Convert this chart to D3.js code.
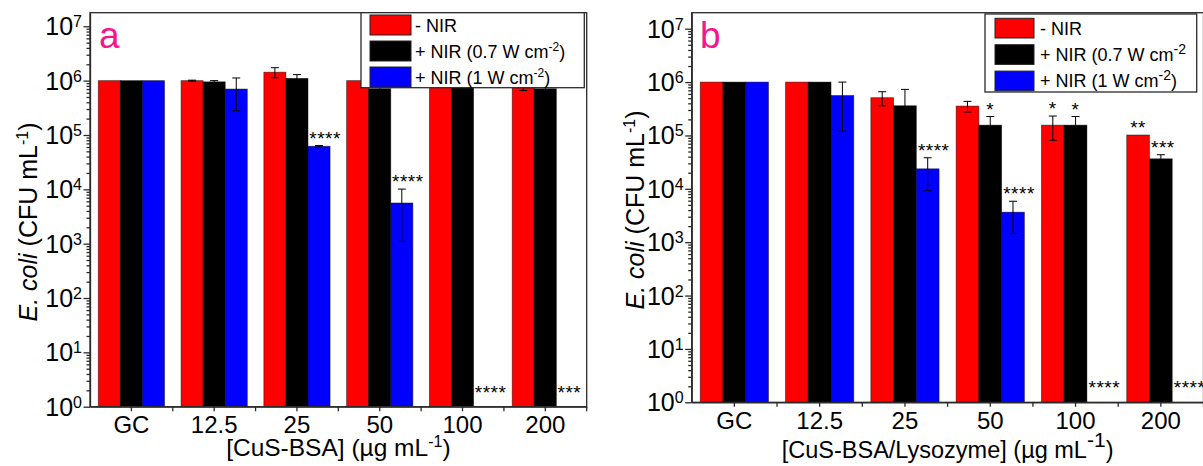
<!DOCTYPE html>
<html><head><meta charset="utf-8">
<script src="https://cdn.jsdelivr.net/npm/d3@7/dist/d3.min.js"></script>
<style>body{margin:0;background:#fff}svg{display:block;font-family:"Liberation Sans",Arial,sans-serif}</style>
</head><body>
<script>
// ---------- data ----------
const categories = ["GC", "12.5", "25", "50", "100", "200"];
const seriesNames = ["- NIR", "+ NIR (0.7 W cm-2)", "+ NIR (1 W cm-2)"];
const seriesColors = ["#ff0000", "#000000", "#0000ff"];
const yTickExps = [0, 1, 2, 3, 4, 5, 6, 7];

// panel a
const redA = [1e6, 1e6, 1.43e6, 1e6, 1e6, 7.4e5];
const redErrA = [0, 2e4, 3e5, 0, 0, 8e4];
const blackA = [1e6, 9.5e5, 1.1e6, 7.1e5, 1e6, 7.1e5];
const blackErrA = [0, 5e4, 1.9e5, 1.5e5, 0, 4e4];
const blueA = [1e6, 7e5, 6.2e4, 5.6e3, null, null];
const blueErrA = [0, 4.2e5, 2e3, 4.5e3, 0, 0];
const starsA = [["25", 2, "****"], ["50", 2, "****"], ["100", 2, "****"], ["200", 2, "***"]];

// panel b
const redB = [1e6, 1e6, 5.1e5, 3.55e5, 1.56e5, 1.02e5];
const redErrB = [0, 0, 1.5e5, 8e4, 7.5e4, 0];
const blackB = [1e6, 1e6, 3.6e5, 1.56e5, 1.56e5, 3.65e4];
const blackErrB = [0, 0, 3.7e5, 7e4, 7e4, 7e3];
const blueB = [1e6, 5.6e5, 2.37e4, 3.65e3, null, null];
const blueErrB = [0, 4.4e5, 1.45e4, 2.2e3, 0, 0];
const starsB = [["25", 2, "****"], ["50", 1, "*"], ["50", 2, "****"], ["100", 0, "*"], ["100", 1, "*"],
                ["200", 0, "**"], ["200", 1, "***"], ["100", 2, "****"], ["200", 2, "****"]];

// ---------- drawing ----------
const svg = d3.select("body").append("svg").attr("width", 1203).attr("height", 466);
const AX = "#2a2a2a";

function richText(g, parts, base) {
  const t = g.append("text").attr("font-size", base);
  let shift = 0;
  parts.forEach(p => {
    const ts = t.append("tspan").text(p.t);
    if (p.sup) { ts.attr("font-size", p.sup.size).attr("dy", -p.sup.dy); shift = p.sup.dy; }
    else if (shift) { ts.attr("dy", shift); shift = 0; }
    if (p.it) ts.attr("font-style", "italic");
  });
  return t;
}

function drawPanel(cfg) {
  const g = svg.append("g");
  const x = d3.scaleBand().domain(categories).range([cfg.x0, cfg.x1]);
  const xs = d3.scaleBand().domain([0, 1, 2]).range([0, x.bandwidth()]).paddingInner(0).paddingOuter(0.375);
  const y = d3.scaleLog().domain([1, cfg.yMax]).range([cfg.yBot, cfg.yTop]);

  // bars
  cfg.values.forEach((vals, s) => {
    g.append("g").selectAll("rect").data(categories.map((c, i) => ({c, v: vals[i]})).filter(d => d.v != null))
      .join("rect")
      .attr("x", d => x(d.c) + xs(s)).attr("width", xs.bandwidth())
      .attr("y", d => y(d.v)).attr("height", d => cfg.yBot - y(d.v))
      .attr("fill", seriesColors[s]).attr("stroke", "#000").attr("stroke-opacity", 0.55).attr("stroke-width", 0.8);
  });
  // error bars
  cfg.values.forEach((vals, s) => {
    const errs = cfg.errs[s];
    categories.forEach((c, i) => {
      const v = vals[i], e = errs[i];
      if (v == null || !e) return;
      const cx = x(c) + xs(s) + xs.bandwidth() / 2;
      const y1 = y(v + e), y2 = y(Math.max(v - e, 1.01));
      const eg = g.append("g").attr("stroke", "#000").attr("stroke-width", 1);
      eg.append("line").attr("x1", cx).attr("x2", cx).attr("y1", y1).attr("y2", y2);
      eg.append("line").attr("x1", cx - 4).attr("x2", cx + 4).attr("y1", y1).attr("y2", y1);
      eg.append("line").attr("x1", cx - 4).attr("x2", cx + 4).attr("y1", y2).attr("y2", y2);
    });
  });
  // stars
  const off = {1: 0, 2: 0, 3: 2, 4: 6};
  cfg.stars.forEach(([c, s, txt]) => {
    const i = categories.indexOf(c);
    const v = cfg.values[s][i], e = cfg.errs[s][i] || 0;
    const cx = x(c) + xs(s) + xs.bandwidth() / 2 + off[txt.length];
    const by = v == null ? cfg.yBot - 8 : y(v + e) - 1;
    g.append("text").attr("x", cx).attr("y", by).attr("text-anchor", "middle")
      .attr("font-size", 19).attr("letter-spacing", 0.5).text(txt);
  });

  // y axis
  const majors = yTickExps.map(e => Math.pow(10, e));
  const minors = [];
  yTickExps.forEach(e => { for (let k = 2; k <= 9; k++) { const v = k * Math.pow(10, e); if (v < cfg.yMax) minors.push(v); } });
  const ya = g.append("g").attr("transform", `translate(${cfg.x0},0)`)
    .call(d3.axisLeft(y).tickValues(majors).tickSize(6.5).tickSizeOuter(0).tickFormat(""));
  const ym = g.append("g").attr("transform", `translate(${cfg.x0},0)`)
    .call(d3.axisLeft(y).tickValues(minors).tickSize(3.5).tickSizeOuter(0).tickFormat(""));
  ym.select(".domain").remove();
  [ya, ym].forEach(a => { a.selectAll("line,path").attr("stroke", AX).attr("stroke-width", 1.3); });
  yTickExps.forEach(e => {
    const t = richText(g, [{t: "10"}, {t: String(e), sup: {size: 16, dy: 8}}], 25);
    t.attr("x", cfg.x0 - 8).attr("y", y(Math.pow(10, e)) + 9).attr("text-anchor", "end");
  });

  // x axis
  const xa = g.append("g").attr("transform", `translate(0,${cfg.yBot})`)
    .call(d3.axisBottom(x).tickSize(4.5).tickSizeOuter(0).tickFormat(""));
  xa.selectAll("line,path").attr("stroke", AX).attr("stroke-width", 1.3);
  const bounds = categories.slice(1).map(c => x(c)).concat([cfg.x1]);
  g.append("g").selectAll("line").data(bounds).join("line")
    .attr("x1", d => d).attr("x2", d => d).attr("y1", cfg.yBot).attr("y2", cfg.yBot + 4.5)
    .attr("stroke", AX).attr("stroke-width", 1.3);
  categories.forEach(c => {
    g.append("text").attr("x", x(c) + x.bandwidth() / 2).attr("y", cfg.yBot + 26.5)
      .attr("text-anchor", "middle").attr("font-size", 24).text(c);
  });

  // frame
  g.append("rect").attr("x", cfg.x0).attr("y", cfg.yTop).attr("width", cfg.x1 - cfg.x0).attr("height", cfg.yBot - cfg.yTop)
    .attr("fill", "none").attr("stroke", AX).attr("stroke-width", 1.3);

  // titles
  richText(g, cfg.xTitle, cfg.xTitleSize).attr("x", (cfg.x0 + cfg.x1) / 2).attr("y", cfg.xTitleY).attr("text-anchor", "middle");
  richText(g, [{t: "E. coli", it: true}, {t: " (CFU mL"}, {t: "-1", sup: {size: 16, dy: 9}}, {t: ")"}], 25)
    .attr("text-anchor", "middle").attr("transform", `translate(${cfg.yTitleX},${cfg.yTitleY}) rotate(-90)`);

  g.append("text").attr("x", cfg.labelX).attr("y", 48).attr("font-size", 37).attr("fill", "#f5168c").text(cfg.label);

  // legend
  const L = cfg.legend;
  g.append("rect").attr("x", L.x).attr("y", L.y).attr("width", L.w).attr("height", L.h)
    .attr("fill", "#fff").attr("stroke", AX).attr("stroke-width", 1.3);
  seriesNames.forEach((nm, s) => {
    const ry = L.rowY + s * L.step;
    g.append("rect").attr("x", L.sx).attr("y", ry).attr("width", L.sw).attr("height", L.sh)
      .attr("fill", seriesColors[s]).attr("stroke", "#222").attr("stroke-width", 1);
    let parts;
    if (s === 0) parts = [{t: nm}];
    else {
      const m = nm.match(/^(.*cm)(-2)(\)?)$/);
      parts = [{t: m[1]}, {t: m[2], sup: {size: L.supSize, dy: 7}}];
      const close = (cfg.label === "b" && s === 1) ? "" : ")";
      if (close) parts.push({t: close});
    }
    richText(g, parts, 18).attr("x", L.tx).attr("y", ry + L.sh / 2 + 6.5);
  });
}

drawPanel({
  x0: 90, x1: 586.7, yTop: 12.7, yBot: 406.7, yMax: Math.pow(10, 7.25),
  values: [redA, blackA, blueA], errs: [redErrA, blackErrA, blueErrA], stars: starsA,
  xTitle: [{t: "[CuS-BSA] (µg mL"}, {t: "-1", sup: {size: 16, dy: 9}}, {t: ")"}], xTitleY: 456, xTitleSize: 24.5,
  yTitleX: 37, yTitleY: 222, label: "a", labelX: 99,
  legend: {x: 361, y: 12.7, w: 223.3, h: 75, sx: 370, sw: 41, sh: 20, rowY: 15, step: 26, tx: 415, supSize: 12}
});
drawPanel({
  x0: 691.7, x1: 1203.5, yTop: 12.7, yBot: 402.3, yMax: Math.pow(10, 7.3),
  values: [redB, blackB, blueB], errs: [redErrB, blackErrB, blueErrB], stars: starsB,
  xTitle: [{t: "[CuS-BSA/Lysozyme] (µg mL"}, {t: "-1", sup: {size: 21, dy: 11}}, {t: ")"}], xTitleY: 458, xTitleSize: 23.5,
  yTitleX: 644, yTitleY: 210, label: "b", labelX: 700,
  legend: {x: 985, y: 14, w: 211.7, h: 78, sx: 995, sw: 39, sh: 19.7, rowY: 18.3, step: 26.4, tx: 1040, supSize: 14}
});
</script>
</body></html>
